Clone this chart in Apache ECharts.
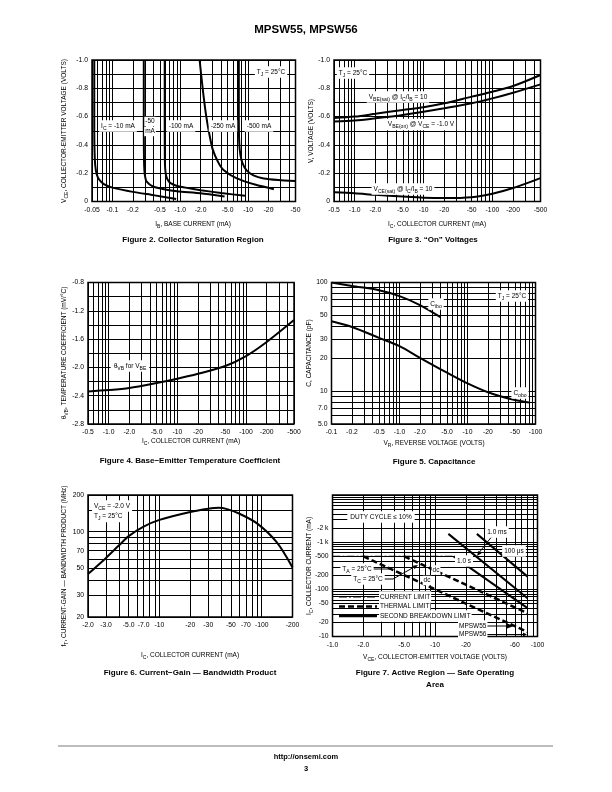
<!DOCTYPE html>
<html><head><meta charset="utf-8"><title>MPSW55, MPSW56</title>
<script src="https://cdn.jsdelivr.net/npm/echarts@6.0.0/dist/echarts.min.js"></script>
<style>html,body{margin:0;padding:0;background:#fff}#chart{width:612px;height:792px}</style>
</head><body><div id="chart"></div><script>
const FONT = "'Liberation Sans', Arial, Helvetica, sans-serif";

/* ---------- Figure 2: Collector Saturation Region ---------- */
const fig2XTicks = [0.05,0.1,0.2,0.5,1,2,5,10,20,50];
const fig2XLabels = ['-0.05','-0.1','-0.2','-0.5','-1.0','-2.0','-5.0','-10','-20','-50'];
const fig2YTicks = [0,-0.2,-0.4,-0.6,-0.8,-1.0];
const fig2YLabels = ['0','-0.2','-0.4','-0.6','-0.8','-1.0'];
const fig2Ib10 = [0.054,0.054,0.055,0.057,0.061,0.068,0.08,0.1,0.2,0.4,0.87];
const fig2Vce10 = [-1.0,-0.5,-0.3,-0.22,-0.17,-0.14,-0.115,-0.098,-0.068,-0.045,-0.018];
const fig2Ib50 = [0.29,0.29,0.292,0.296,0.305,0.32,0.39,0.6,0.9,2.0,4.5];
const fig2Vce50 = [-1.0,-0.5,-0.3,-0.22,-0.17,-0.14,-0.108,-0.085,-0.072,-0.058,-0.035];
const fig2Ib100 = [0.59,0.59,0.593,0.6,0.62,0.66,0.72,0.9,1.3,2.0,4.0,9.0];
const fig2Vce100 = [-1.0,-0.5,-0.3,-0.23,-0.18,-0.15,-0.13,-0.11,-0.095,-0.08,-0.06,-0.04];
const fig2Ib250 = [1.93,2.05,2.2,2.42,2.7,3.0,3.6,4.3,6.7,13,24];
const fig2Vce250 = [-1.0,-0.88,-0.75,-0.6,-0.47,-0.37,-0.28,-0.225,-0.165,-0.118,-0.087];
const fig2Ib500 = [7.3,7.3,7.4,7.7,8.3,9.5,12,17,28,50];
const fig2Vce500 = [-1.0,-0.6,-0.42,-0.33,-0.27,-0.22,-0.185,-0.163,-0.152,-0.145];

/* ---------- Figure 3: "On" Voltages ---------- */
const fig3XTicks = [0.5,1,2,5,10,20,50,100,200,500];
const fig3XLabels = ['-0.5','-1.0','-2.0','-5.0','-10','-20','-50','-100','-200','-500'];
const fig3YTicks = [0,-0.2,-0.4,-0.6,-0.8,-1.0];
const fig3YLabels = ['0','-0.2','-0.4','-0.6','-0.8','-1.0'];
const fig3Ic = [0.5,1,2,5,10,20,50,100,200,500];
const fig3VbeSat = [-0.59,-0.60,-0.62,-0.647,-0.666,-0.694,-0.741,-0.776,-0.816,-0.894];
const fig3VbeOn = [-0.565,-0.572,-0.588,-0.612,-0.635,-0.659,-0.694,-0.729,-0.769,-0.828];
const fig3VceSat = [-0.065,-0.058,-0.047,-0.035,-0.027,-0.024,-0.03,-0.055,-0.095,-0.165];

/* ---------- Figure 4: Base-Emitter Temperature Coefficient ---------- */
const fig4XTicks = [0.5,1,2,5,10,20,50,100,200,500];
const fig4XLabels = ['-0.5','-1.0','-2.0','-5.0','-10','-20','-50','-100','-200','-500'];
const fig4YTicks = [-0.8,-1.2,-1.6,-2.0,-2.4,-2.8];
const fig4YLabels = ['-0.8','-1.2','-1.6','-2.0','-2.4','-2.8'];
const fig4Ic = [0.5,1,2,5,10,20,50,100,200,500];
const fig4Theta = [-2.34,-2.32,-2.29,-2.22,-2.16,-2.09,-1.98,-1.84,-1.64,-1.33];

/* ---------- Figure 5: Capacitance ---------- */
const fig5XTicks = [0.1,0.2,0.5,1,2,5,10,20,50,100];
const fig5XLabels = ['-0.1','-0.2','-0.5','-1.0','-2.0','-5.0','-10','-20','-50','-100'];
const fig5YTicks = [5,7,10,20,30,50,70,100];
const fig5YLabels = ['5.0','7.0','10','20','30','50','70','100'];
const fig5VrCibo = [0.1,0.2,0.5,1,2,4];
const fig5Cibo = [100,93,85,75,62,48];
const fig5VrCobo = [0.1,0.2,0.5,1,2,5,10,20,50,80];
const fig5Cobo = [44,39,31,26,20.3,14.8,11.8,9.8,8.3,7.9];

/* ---------- Figure 6: Current-Gain Bandwidth Product ---------- */
const fig6XTicks = [2,3,5,7,10,20,30,50,70,100,200];
const fig6XLabels = ['-2.0','-3.0','-5.0','-7.0','-10','-20','-30','-50','-70','-100','-200'];
const fig6YTicks = [20,30,50,70,100,200];
const fig6YLabels = ['20','30','50','70','100','200'];
const fig6Ic = [2,3,4,5,7,10,20,30,38,45,60,90,140,200];
const fig6Ft = [45,61,77,92,110,125,145,154,157,154,141,117,82,51];

/* ---------- Figure 7: Active Region - Safe Operating Area ---------- */
const fig7XTicks = [1,2,5,10,20,60,80,100];
const fig7XLabels = ['-1.0','-2.0','-5.0','-10','-20','-60','-80','-100'];
const fig7YTicks = [10,20,50,100,200,500,1000,2000];
const fig7YLabels = ['-10','-20','-50','-100','-200','-500','-1 k','-2 k'];
const soaCurrentLimitV = [1,15.2];   const soaCurrentLimitI = [500,500];
const soaThermalTaV = [2,80];        const soaThermalTaI = [500,12.5];
const soaThermalTcV = [5,80];        const soaThermalTcI = [500,31.25];
const soa1sV = [15.2,80];            const soa1sI = [500,40];
const soa1msV = [13.5,80];           const soa1msI = [1500,65];
const soa100usV = [25.6,80];         const soa100usI = [1500,186];

/* ---------- helpers ---------- */
const zip = (xs, ys) => xs.map((x, i) => [x, ys[i]]);
function logGrid(min, max, extra) {
  const out = [];
  for (let e = Math.floor(Math.log10(min)) - 1; e <= Math.ceil(Math.log10(max)); e++) {
    for (let m = 1; m < 10; m++) {
      const v = +(m * Math.pow(10, e)).toPrecision(6);
      if (v >= min * 0.9999 && v <= max * 1.0001) out.push(v);
    }
  }
  return out.concat(extra || []).sort((a, b) => a - b);
}
function lookup(ticks, labels) {
  return function (v) {
    for (let i = 0; i < ticks.length; i++) {
      if (Math.abs(v - ticks[i]) <= 1e-6 * Math.max(1, Math.abs(ticks[i]))) return labels[i];
    }
    return '';
  };
}
const labelBase = { color: '#000', fontSize: 6.8, fontFamily: FONT, showMinLabel: true, showMaxLabel: true, hideOverlap: false };
const splitBase = { show: true, lineStyle: { color: '#000', width: 1, type: 'solid' } };
function logAxis(gi, min, max, grid, ticks, labels, isY) {
  return {
    type: 'log', logBase: 10, gridIndex: gi, min: min, max: max,
    axisLine: { show: false }, axisTick: { show: false, customValues: grid },
    splitLine: splitBase, minorTick: { show: false }, minorSplitLine: { show: false },
    axisLabel: Object.assign({}, labelBase, { customValues: ticks, formatter: lookup(ticks, labels), margin: isY ? 4 : 5 })
  };
}
function linAxis(gi, min, max, interval, ticks, labels, inverse, isY) {
  return {
    type: 'value', gridIndex: gi, min: min, max: max, interval: interval, inverse: !!inverse,
    axisLine: { show: false }, axisTick: { show: false },
    splitLine: splitBase,
    axisLabel: Object.assign({}, labelBase, { customValues: ticks, formatter: lookup(ticks, labels), margin: isY ? 4 : 5 })
  };
}
function curve(gi, data, extra) {
  return Object.assign({
    type: 'line', xAxisIndex: gi, yAxisIndex: gi, data: data, symbol: 'none', showSymbol: false,
    smooth: 0.3, lineStyle: { color: '#000', width: 2 }, silent: true, z: 3
  }, extra || {});
}

/* rich text with subscripts: "V_{CE}" */
function toRich(s, fs, bold) {
  const parts = [];
  const re = /_\{([^}]*)\}/g;
  let last = 0, m;
  while ((m = re.exec(s))) {
    if (m.index > last) parts.push('{n|' + s.slice(last, m.index) + '}');
    parts.push('{s|' + m[1] + '}');
    last = re.lastIndex;
  }
  if (last < s.length) parts.push('{n|' + s.slice(last) + '}');
  const w = bold ? 'bold' : 'normal';
  const sfs = +(fs * 0.78).toFixed(2);
  return {
    text: parts.join(''),
    rich: {
      n: { fontSize: fs, fontFamily: FONT, fontWeight: w, fill: '#000', lineHeight: fs + 3 },
      s: { fontSize: sfs, fontFamily: FONT, fontWeight: w, fill: '#000', lineHeight: sfs + 1, verticalAlign: 'bottom' }
    }
  };
}
const G = [];
function txt(x, y, s, o) {
  o = o || {};
  const fs = o.fs || 6.5;
  const r = toRich(s, fs, o.bold);
  G.push({
    type: 'text', x: x, y: y, z: 100, rotation: o.rot || 0, silent: true,
    style: {
      text: r.text, rich: r.rich, align: o.align || 'center', verticalAlign: 'middle',
      backgroundColor: o.bg || 'transparent', padding: o.pad || [0, 1], fill: '#000'
    }
  });
}
function seg(x1, y1, x2, y2, w, dash, color) {
  G.push({ type: 'line', z: 100, silent: true, shape: { x1: x1, y1: y1, x2: x2, y2: y2 },
    style: { stroke: color || '#000', lineWidth: w || 1, lineDash: dash || null } });
}
function arrowHead(x1, y1, x2, y2, len, wid) {
  const a = Math.atan2(y2 - y1, x2 - x1);
  const bx = x2 - len * Math.cos(a), by = y2 - len * Math.sin(a);
  const px = -Math.sin(a) * wid, py = Math.cos(a) * wid;
  G.push({ type: 'polygon', z: 101, silent: true,
    shape: { points: [[x2, y2], [bx + px, by + py], [bx - px, by - py]] }, style: { fill: '#000' } });
}

/* ---------- page text ---------- */
txt(306, 30, 'MPSW55, MPSW56', { fs: 11.5, bold: true });
seg(58, 746, 553, 746, 2, null, '#bdbdbd');
txt(306, 757, 'http://onsemi.com', { fs: 7.5, bold: true });
txt(306, 769, '3', { fs: 7.5, bold: true });

/* Fig 2 texts */
txt(193, 224, 'I_{B}, BASE CURRENT (mA)');
txt(64, 131, 'V_{CE}, COLLECTOR-EMITTER VOLTAGE (VOLTS)', { rot: Math.PI / 2 });
txt(193, 240, 'Figure 2. Collector Saturation Region', { fs: 8, bold: true });
txt(271, 72, 'T_{J} = 25°C', { bg: '#fff', pad: [1, 2] });
txt(118, 126, 'I_{C} = -10 mA', { bg: '#fff', pad: [1, 2] });
txt(150, 121.5, '-50', { bg: '#fff', pad: [0, 1] });
txt(150, 131.5, 'mA', { bg: '#fff', pad: [0, 1] });
txt(181, 126, '-100 mA', { bg: '#fff', pad: [1, 2] });
txt(223, 126, '-250 mA', { bg: '#fff', pad: [1, 2] });
txt(259, 126, '-500 mA', { bg: '#fff', pad: [1, 2] });

/* Fig 3 texts */
txt(437, 224, 'I_{C}, COLLECTOR CURRENT (mA)');
txt(311, 131, 'V, VOLTAGE (VOLTS)', { rot: Math.PI / 2 });
txt(433, 240, 'Figure 3. \u201COn\u201D Voltages', { fs: 8, bold: true });
txt(353, 73, 'T_{J} = 25°C', { bg: '#fff', pad: [1, 2] });
txt(398, 97, 'V_{BE(sat)} @ I_{C}/I_{B} = 10', { bg: '#fff', pad: [1, 2] });
txt(421, 124.5, 'V_{BE(on)} @ V_{CE} = -1.0 V', { bg: '#fff', pad: [1, 2] });
txt(403, 189, 'V_{CE(sat)} @ I_{C}/I_{B} = 10', { bg: '#fff', pad: [1, 2] });

/* Fig 4 texts */
txt(191, 441, 'I_{C}, COLLECTOR CURRENT (mA)');
txt(64, 353, '\u03B8_{VB}, TEMPERATURE COEFFICIENT (mV/°C)', { rot: Math.PI / 2 });
txt(190, 461, 'Figure 4. Base\u2212Emitter Temperature Coefficient', { fs: 8, bold: true });
txt(130, 366, '\u03B8_{VB} for V_{BE}', { bg: '#fff', pad: [1, 3] });

/* Fig 5 texts */
txt(434, 443, 'V_{R}, REVERSE VOLTAGE (VOLTS)');
txt(309, 353, 'C, CAPACITANCE (pF)', { rot: Math.PI / 2 });
txt(434, 462, 'Figure 5. Capacitance', { fs: 8, bold: true });
txt(436, 304, 'C_{ibo}', { bg: '#fff', pad: [1, 2] });
txt(512, 296, 'T_{J} = 25°C', { bg: '#fff', pad: [1, 2] });
txt(520, 393, 'C_{obo}', { bg: '#fff', pad: [1, 2] });

/* Fig 6 texts */
txt(190, 655, 'I_{C}, COLLECTOR CURRENT (mA)');
txt(64, 566, 'f_{T}, CURRENT-GAIN \u2014 BANDWIDTH PRODUCT (MHz)', { rot: Math.PI / 2 });
txt(190, 673, 'Figure 6. Current\u2212Gain \u2014 Bandwidth Product', { fs: 8, bold: true });
txt(92, 506, 'V_{CE} = -2.0 V', { bg: '#fff', pad: [1, 2], align: 'left' });
txt(92, 516.5, 'T_{J} = 25°C', { bg: '#fff', pad: [1, 2], align: 'left' });

/* Fig 7 texts */
txt(435, 657, 'V_{CE}, COLLECTOR-EMITTER VOLTAGE (VOLTS)');
txt(309, 566, 'I_{C}, COLLECTOR CURRENT (mA)', { rot: Math.PI / 2 });
txt(435, 673, 'Figure 7. Active Region \u2014 Safe Operating', { fs: 8, bold: true });
txt(435, 685, 'Area', { fs: 8, bold: true });
txt(381, 517, 'DUTY CYCLE \u2264 10%', { bg: '#fff', pad: [1, 3] });
seg(493, 535, 478, 554, 1);
arrowHead(493, 535, 477, 556, 5, 2);
txt(497, 532, '1.0 ms', { bg: '#fff', pad: [1, 2] });
txt(514, 551, '100 \u03BCs', { bg: '#fff', pad: [1, 2] });
txt(464, 561, '1.0 s', { bg: '#fff', pad: [1, 2] });
seg(370, 569, 390, 569, 1);
txt(357, 569, 'T_{A} = 25°C', { bg: '#fff', pad: [1, 2] });
seg(380, 579, 393, 579, 1);
seg(393, 579, 416, 566, 1);
arrowHead(393, 579, 418, 565, 5, 2);
txt(368, 579, 'T_{C} = 25°C', { bg: '#fff', pad: [1, 2] });
txt(436, 570, 'dc', { bg: '#fff', pad: [0, 1] });
txt(427, 580.5, 'dc', { bg: '#fff', pad: [0, 1] });
/* legend samples */
seg(339, 597, 377, 597, 1, [8, 2, 2, 2]);
seg(339, 606.5, 377, 606.5, 2.5, [6, 3]);
seg(339, 616, 377, 616, 2.5);
txt(379, 597, 'CURRENT LIMIT', { bg: '#fff', pad: [1, 1], align: 'left' });
txt(379, 606.5, 'THERMAL LIMIT', { bg: '#fff', pad: [1, 1], align: 'left' });
txt(379, 616, 'SECOND BREAKDOWN LIMIT', { bg: '#fff', pad: [1, 1], align: 'left' });
seg(476, 626, 510, 626, 1);
arrowHead(476, 626, 514, 626, 7, 2.5);
txt(458, 626, 'MPSW55', { bg: '#fff', pad: [1, 1], align: 'left' });
seg(476, 634.5, 524, 634.5, 1);
arrowHead(476, 634.5, 527, 634.5, 4, 2);
txt(458, 634.5, 'MPSW56', { bg: '#fff', pad: [1, 1], align: 'left' });

/* ---------- grids ---------- */
const grids = [
  { left: 92, top: 60, width: 203.5, height: 141.5 },
  { left: 334, top: 60, width: 206.5, height: 141.5 },
  { left: 88, top: 282.5, width: 206, height: 141.5 },
  { left: 331.5, top: 282.5, width: 204, height: 141.5 },
  { left: 88, top: 495, width: 204.5, height: 122 },
  { left: 332.5, top: 495, width: 205, height: 141.5 }
].map(g => Object.assign(g, { show: true, borderColor: '#000', borderWidth: 1.5, backgroundColor: 'transparent', containLabel: false, outerBoundsMode: 'none' }));

const xAxis = [
  logAxis(0, 0.05, 50, logGrid(0.05, 50), fig2XTicks, fig2XLabels),
  logAxis(1, 0.5, 500, logGrid(0.5, 500), fig3XTicks, fig3XLabels),
  logAxis(2, 0.5, 500, logGrid(0.5, 500), fig4XTicks, fig4XLabels),
  logAxis(3, 0.1, 100, logGrid(0.1, 100), fig5XTicks, fig5XLabels),
  logAxis(4, 2, 200, logGrid(2, 200), fig6XTicks, fig6XLabels),
  logAxis(5, 1, 100, logGrid(1, 100), fig7XTicks, fig7XLabels)
];
const yAxis = [
  linAxis(0, -1, 0, 0.1, fig2YTicks, fig2YLabels, true, true),
  linAxis(1, -1, 0, 0.1, fig3YTicks, fig3YLabels, true, true),
  linAxis(2, -2.8, -0.8, 0.2, fig4YTicks, fig4YLabels, false, true),
  logAxis(3, 5, 100, logGrid(5, 100), fig5YTicks, fig5YLabels, true),
  logAxis(4, 20, 200, logGrid(20, 200, [150]), fig6YTicks, fig6YLabels, true),
  logAxis(5, 10, 10000, logGrid(10, 10000), fig7YTicks, fig7YLabels, true)
];

const thermal = { lineStyle: { color: '#000', width: 2.5, type: [6, 3] }, smooth: false };
const solid = { lineStyle: { color: '#000', width: 2 }, smooth: false };
const series = [
  curve(0, zip(fig2Ib10, fig2Vce10), { name: 'IC = -10 mA', smooth: 0.2 }),
  curve(0, zip(fig2Ib50, fig2Vce50), { name: 'IC = -50 mA', smooth: 0.2 }),
  curve(0, zip(fig2Ib100, fig2Vce100), { name: 'IC = -100 mA', smooth: 0.2 }),
  curve(0, zip(fig2Ib250, fig2Vce250), { name: 'IC = -250 mA', smooth: 0.2 }),
  curve(0, zip(fig2Ib500, fig2Vce500), { name: 'IC = -500 mA', smooth: 0.2 }),
  curve(1, zip(fig3Ic, fig3VbeSat), { name: 'VBE(sat)' }),
  curve(1, zip(fig3Ic, fig3VbeOn), { name: 'VBE(on)' }),
  curve(1, zip(fig3Ic, fig3VceSat), { name: 'VCE(sat)' }),
  curve(2, zip(fig4Ic, fig4Theta), { name: 'θVB for VBE' }),
  curve(3, zip(fig5VrCibo, fig5Cibo), { name: 'Cibo' }),
  curve(3, zip(fig5VrCobo, fig5Cobo), { name: 'Cobo' }),
  curve(4, zip(fig6Ic, fig6Ft), { name: 'fT' }),
  curve(5, zip(soaCurrentLimitV, soaCurrentLimitI), { name: 'CURRENT LIMIT', smooth: false, lineStyle: { color: '#000', width: 1.2, type: [8, 2, 2, 2] } }),
  curve(5, zip(soaThermalTaV, soaThermalTaI), Object.assign({ name: 'THERMAL LIMIT' }, thermal)),
  curve(5, zip(soaThermalTcV, soaThermalTcI), Object.assign({ name: 'THERMAL LIMIT' }, thermal)),
  curve(5, zip(soa1sV, soa1sI), Object.assign({ name: 'SECOND BREAKDOWN LIMIT' }, solid)),
  curve(5, zip(soa1msV, soa1msI), Object.assign({ name: 'SECOND BREAKDOWN LIMIT' }, solid)),
  curve(5, zip(soa100usV, soa100usI), Object.assign({ name: 'SECOND BREAKDOWN LIMIT' }, solid))
];

const chart = echarts.init(document.getElementById('chart'), null, { renderer: 'canvas', width: 612, height: 792 });
chart.setOption({
  animation: false,
  backgroundColor: '#fff',
  textStyle: { fontFamily: FONT },
  grid: grids, xAxis: xAxis, yAxis: yAxis, series: series,
  graphic: { elements: G }
});
</script></body></html>
